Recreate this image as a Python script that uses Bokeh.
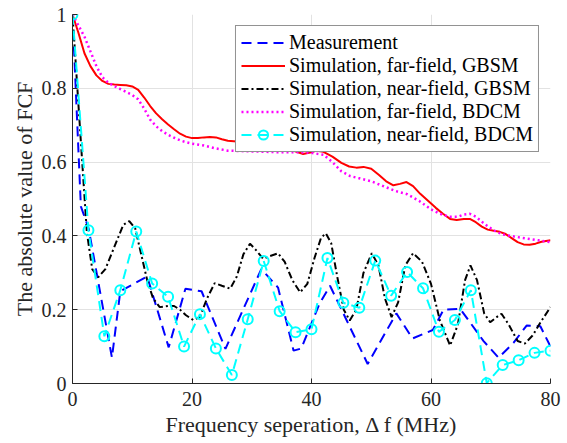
from bokeh.plotting import figure
from bokeh.models import Range1d, FixedTicker, Legend, LegendItem, NumeralTickFormatter
from bokeh.embed import file_html
from bokeh.resources import INLINE

# Frequency correlation function (FCF) vs. frequency separation (MHz)
meas_f = [0, 1.4, 2.7, 6.6, 8.0, 12.5, 16.1, 18.9, 21.6, 25.6, 31.6, 34.4, 37.0,
          38.3, 41.3, 43.1, 49.4, 54.2, 56.9, 60.3, 62.1, 64.9, 68.8, 71.3, 73.8,
          76.0, 78.3, 80.0]
meas_v = [1.0, 0.48, 0.42, 0.07, 0.25, 0.29, 0.098, 0.257, 0.25, 0.094, 0.31, 0.26, 0.089,
          0.095, 0.215, 0.265, 0.053, 0.19, 0.122, 0.145, 0.2, 0.202, 0.115, 0.07, 0.11,
          0.157, 0.155, 0.1]

far_gbsm_f = [0, 1, 2, 3, 4, 5, 6, 7, 8, 9, 10, 11, 12, 13, 14, 15, 16, 17, 18, 19, 20,
              21, 22, 23, 24, 25, 26, 28, 30, 32, 34, 36, 37.5, 38.6, 39.8, 40.9, 42,
              43.5, 45, 46.3, 47.5, 48.7, 50, 51.3, 52.5, 53.7, 54.8, 55.9, 57, 58.2,
              59.5, 60.8, 62, 63.2, 64.3, 65.5, 66.5, 67.5, 68.5, 69.5, 70.5, 71.5,
              72.5, 73.5, 74.5, 75.5, 76.5, 77.5, 78.5, 80]
far_gbsm_v = [1.0, 0.95, 0.895, 0.86, 0.835, 0.82, 0.812, 0.81, 0.809, 0.808, 0.805,
              0.796, 0.775, 0.752, 0.732, 0.716, 0.702, 0.689, 0.677, 0.669, 0.665,
              0.665, 0.667, 0.668, 0.667, 0.662, 0.658, 0.655, 0.652, 0.648, 0.643,
              0.637, 0.628, 0.622, 0.626, 0.631, 0.628, 0.615, 0.598, 0.588, 0.585,
              0.587, 0.582, 0.565, 0.548, 0.537, 0.541, 0.546, 0.535, 0.514, 0.495,
              0.476, 0.46, 0.446, 0.443, 0.446, 0.446, 0.437, 0.425, 0.417, 0.414,
              0.411, 0.405, 0.394, 0.383, 0.377, 0.376, 0.379, 0.384, 0.388]

near_gbsm_f = [0, 2.4, 3.3, 4.3, 5.5, 7, 8.5, 9.5, 10.5, 11.5, 12.5, 13.5, 14.6, 16, 17,
               18, 19, 20.2, 21.3, 22.5, 23.8, 25, 26.4, 27.5, 28.6, 29.7, 30.8, 31.9,
               33, 34.4, 35.5, 36.8, 38.1, 39.3, 40.5, 41.6, 42.4, 43.3, 44.3, 45.4,
               46.4, 47.5, 48.7, 50.1, 51.2, 52.3, 53.4, 54.5, 55.7, 57, 58.5, 60,
               61.5, 63.2, 64.5, 65.7, 66.6, 67.7, 68.9, 69.9, 71, 71.8, 73, 74.5,
               75.7, 77, 78.5, 80]
near_gbsm_v = [1.0, 0.41, 0.31, 0.288, 0.31, 0.37, 0.43, 0.44, 0.42, 0.35, 0.28, 0.23,
               0.207, 0.21, 0.21, 0.2, 0.185, 0.172, 0.18, 0.23, 0.272, 0.265, 0.257,
               0.29, 0.35, 0.379, 0.36, 0.338, 0.345, 0.353, 0.33, 0.28, 0.247, 0.27,
               0.34, 0.395, 0.407, 0.38, 0.29, 0.2, 0.171, 0.2, 0.3, 0.353, 0.32,
               0.23, 0.18, 0.22, 0.32, 0.353, 0.33, 0.27, 0.17, 0.103, 0.16, 0.28,
               0.32, 0.28, 0.19, 0.166, 0.18, 0.189, 0.16, 0.115, 0.108, 0.13, 0.17,
               0.207]

far_bdcm_f = [0, 1, 2, 3, 4, 5, 6, 7, 8, 9, 10, 11, 12, 13, 14, 15, 16, 17, 18, 19, 20,
              22, 24, 26, 28, 30, 32, 34, 36, 38, 40, 42, 43.5, 45, 46.5, 48, 50, 52,
              54, 56, 58, 60, 61.5, 63, 64.5, 65.5, 66.5, 67.5, 69, 70.5, 72, 74, 76,
              78, 80]
far_bdcm_v = [1.0, 0.97, 0.94, 0.9, 0.86, 0.83, 0.815, 0.806, 0.798, 0.79, 0.782, 0.77,
              0.745, 0.715, 0.697, 0.684, 0.674, 0.666, 0.659, 0.654, 0.65, 0.645,
              0.637, 0.631, 0.63, 0.629, 0.628, 0.627, 0.627, 0.627, 0.625, 0.62, 0.6,
              0.575, 0.562, 0.556, 0.548, 0.535, 0.522, 0.513, 0.495, 0.472, 0.46,
              0.452, 0.452, 0.458, 0.46, 0.452, 0.432, 0.415, 0.404, 0.398, 0.393,
              0.388, 0.383]

near_bdcm_f = [0, 2.67, 5.33, 8, 10.67, 13.33, 16, 18.67, 21.33, 24, 26.67, 29.33, 32,
               34.67, 37.33, 40, 42.67, 45.33, 48, 50.67, 53.33, 56, 58.67, 61.33, 64,
               66.67, 69.33, 72, 74.67, 77.33, 80]
near_bdcm_v = [1.0, 0.415, 0.128, 0.253, 0.412, 0.271, 0.235, 0.1, 0.188, 0.095, 0.023,
               0.174, 0.332, 0.196, 0.139, 0.147, 0.34, 0.219, 0.205, 0.333, 0.238,
               0.302, 0.258, 0.14, 0.172, 0.253, 0.001, 0.05, 0.063, 0.083, 0.089]

x_ticks = [0, 20, 40, 60, 80]
y_ticks = [0, 0.2, 0.4, 0.6, 0.8, 1.0]

FONT = "Liberation Serif"
INK = "#262626"

p = figure(width=567, height=443, x_range=Range1d(0, 80), y_range=Range1d(0, 1),
           output_backend="svg", toolbar_location=None,
           min_border_left=72, min_border_right=17, min_border_top=14,
           min_border_bottom=60)
p.outline_line_color = None

p.xaxis.ticker = FixedTicker(ticks=x_ticks)
p.yaxis.ticker = FixedTicker(ticks=y_ticks)
p.yaxis.formatter = NumeralTickFormatter(format="0.[0]")

p.xaxis.axis_label = "Frequency seperation, \u0394 f (MHz)"
p.yaxis.axis_label = "The absolute value of FCF"
p.axis.axis_line_color = INK
p.axis.major_tick_line_color = INK
p.axis.major_tick_in = 5
p.axis.major_tick_out = 0
p.axis.minor_tick_line_color = None
p.axis.major_label_text_font = FONT
p.axis.major_label_text_font_size = "20px"
p.axis.major_label_text_color = INK
p.axis.axis_label_text_font = FONT
p.axis.axis_label_text_font_size = "22px"
p.axis.axis_label_text_font_style = "normal"
p.axis.axis_label_text_color = INK
p.xaxis.major_label_standoff = 8
p.yaxis.major_label_standoff = 6
p.xaxis.axis_label_standoff = 3
p.yaxis.axis_label_standoff = 2

p.grid.grid_line_color = "#e2e2e2"

r_meas = p.line(meas_f, meas_v, line_color="#0000ff", line_width=2, line_dash="10 6")
r_far_g = p.line(far_gbsm_f, far_gbsm_v, line_color="#ff0000", line_width=2)
r_near_g = p.line(near_gbsm_f, near_gbsm_v, line_color="black", line_width=2,
                  line_dash="7 3 2 3")
r_far_b = p.line(far_bdcm_f, far_bdcm_v, line_color="#ff00ff", line_width=2.5,
                 line_dash="2 3")
r_near_b = p.line(near_bdcm_f, near_bdcm_v, line_color="#00ffff", line_width=2,
                  line_dash="10 6")
r_near_b_pts = p.scatter(near_bdcm_f, near_bdcm_v, marker="circle", size=10,
                         line_color="#00ffff", line_width=2, fill_color=None)

legend = Legend(items=[
    LegendItem(label="Measurement", renderers=[r_meas]),
    LegendItem(label="Simulation, far-field, GBSM", renderers=[r_far_g]),
    LegendItem(label="Simulation, near-field, GBSM", renderers=[r_near_g]),
    LegendItem(label="Simulation, far-field, BDCM", renderers=[r_far_b]),
    LegendItem(label="Simulation, near-field, BDCM", renderers=[r_near_b, r_near_b_pts]),
], location="top_right",
    margin=11, padding=5, spacing=0, label_height=23, glyph_height=23,
    glyph_width=44, label_standoff=4, label_text_font=FONT,
    label_text_font_size="20px", label_text_color="black",
    border_line_color=INK, border_line_width=1,
    background_fill_color="white", background_fill_alpha=1.0)
p.add_layout(legend, "center")

open("out.html", "w").write(file_html(p, INLINE))
